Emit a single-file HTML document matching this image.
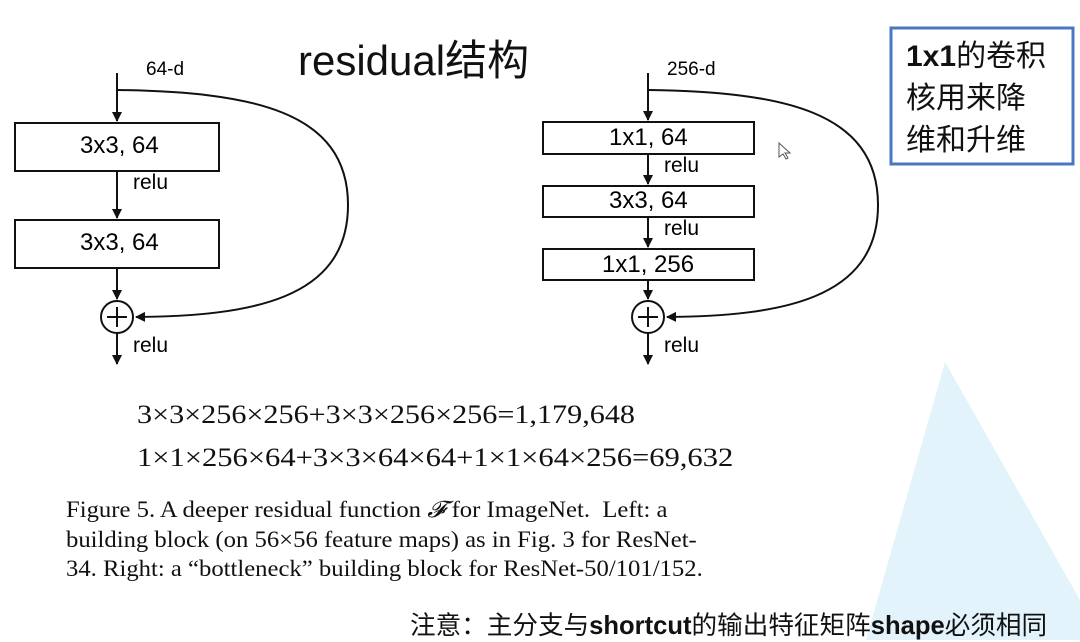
<!DOCTYPE html>
<html><head><meta charset="utf-8"><style>
body{margin:0;width:1080px;height:640px;background:#fff;overflow:hidden;position:relative;font-family:"Liberation Sans","Noto Sans CJK SC",sans-serif}
.t{position:absolute;white-space:nowrap}
.serif{font-family:"Liberation Serif","Noto Serif CJK SC",serif;color:#111}
</style></head><body>
<svg width="1080" height="640" style="position:absolute;left:0;top:0">
<defs><marker id="a" markerWidth="10" markerHeight="12" refX="9" refY="6" orient="auto" markerUnits="userSpaceOnUse"><path d="M0,1 L10,6 L0,11 Z" fill="#111"/></marker></defs>
<polygon points="945,362 1080,600 1080,640 866,640" fill="#e2f3fc"/>
<g stroke="#111" stroke-width="2" fill="none">
<rect x="15" y="123" width="204" height="48" fill="#fff"/>
<rect x="15" y="220" width="204" height="48" fill="#fff"/>
<line x1="117" y1="73" x2="117" y2="121" marker-end="url(#a)"/>
<line x1="117" y1="171" x2="117" y2="218" marker-end="url(#a)"/>
<line x1="117" y1="268" x2="117" y2="299" marker-end="url(#a)"/>
<line x1="117" y1="333" x2="117" y2="364" marker-end="url(#a)"/>
<circle cx="117" cy="317" r="16"/>
<path d="M107,317 H127 M117,307 V327" />
<path d="M118,90 C250,92 348,110 348,205 C348,300 250,316 136,317" marker-end="url(#a)"/>
<rect x="543" y="122" width="211" height="32" fill="#fff"/>
<rect x="543" y="186" width="211" height="31" fill="#fff"/>
<rect x="543" y="249" width="211" height="31" fill="#fff"/>
<line x1="648" y1="73" x2="648" y2="120" marker-end="url(#a)"/>
<line x1="648" y1="154" x2="648" y2="184" marker-end="url(#a)"/>
<line x1="648" y1="217" x2="648" y2="247" marker-end="url(#a)"/>
<line x1="648" y1="280" x2="648" y2="299" marker-end="url(#a)"/>
<line x1="648" y1="333" x2="648" y2="364" marker-end="url(#a)"/>
<circle cx="648" cy="317" r="16"/>
<path d="M638,317 H658 M648,307 V327"/>
<path d="M649,90 C780,92 878,110 878,205 C878,300 780,316 667,317" marker-end="url(#a)"/>
</g>
<rect x="891" y="28" width="182" height="136" fill="#fff" stroke="#4a78c0" stroke-width="3"/>
<path d="M779,143 v14 l4,-3 l3,5 l2,-1 l-3,-5 h5 z" fill="#fff" stroke="#555" stroke-width="1"/>
</svg>
<div class="t" style="left:298px;top:27px;font-size:42px;color:#111">residual结构</div>
<div class="t" style="left:146px;top:59px;font-size:19px">64-d</div>
<div class="t" style="left:80px;top:132px;font-size:24px">3x3, 64</div>
<div class="t" style="left:133px;top:171px;font-size:21px">relu</div>
<div class="t" style="left:80px;top:229px;font-size:24px">3x3, 64</div>
<div class="t" style="left:133px;top:334px;font-size:21px">relu</div>
<div class="t" style="left:667px;top:59px;font-size:19px">256-d</div>
<div class="t" style="left:609px;top:124px;font-size:24px">1x1, 64</div>
<div class="t" style="left:664px;top:154px;font-size:21px">relu</div>
<div class="t" style="left:609px;top:187px;font-size:24px">3x3, 64</div>
<div class="t" style="left:664px;top:217px;font-size:21px">relu</div>
<div class="t" style="left:602px;top:251px;font-size:24px">1x1, 256</div>
<div class="t" style="left:664px;top:334px;font-size:21px">relu</div>
<div class="t" style="left:906px;top:36px;font-size:30px;line-height:42px;color:#111"><b>1x1</b>的卷积<br>核用来降<br>维和升维</div>
<div class="t serif" style="left:137px;top:400px;font-size:26px;transform:scaleX(1.16);transform-origin:0 0">3×3×256×256+3×3×256×256=1,179,648</div>
<div class="t serif" style="left:137px;top:443px;font-size:26px;transform:scaleX(1.175);transform-origin:0 0">1×1×256×64+3×3×64×64+1×1×64×256=69,632</div>
<div class="t serif" style="left:66px;top:495px;font-size:23px;line-height:29.5px;transform:scaleX(1.073);transform-origin:0 0">Figure 5. A deeper residual function <i>𝓕</i> for ImageNet.&nbsp; Left: a<br>building block (on 56×56 feature maps) as in Fig. 3 for ResNet-<br>34. Right: a “bottleneck” building block for ResNet-50/101/152.</div>
<div class="t" style="left:410px;top:605px;font-size:25.6px;color:#111">注意：主分支与<b>shortcut</b>的输出特征矩阵<b>shape</b>必须相同</div>
</body></html>
